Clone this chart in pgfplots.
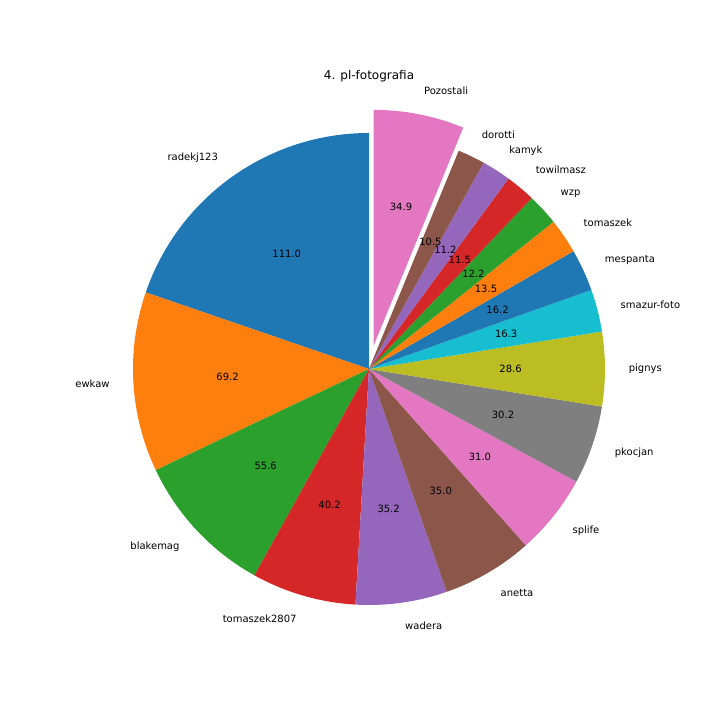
\documentclass[border=0pt]{standalone}
\usepackage{pgfplots}
\usepackage{pgfplotstable}
\usepackage{fontspec}
\setmainfont{DejaVu Sans}
\pgfplotsset{compat=1.18}
\definecolor{c0}{HTML}{1F77B4}
\definecolor{c1}{HTML}{FF7F0E}
\definecolor{c2}{HTML}{2CA02C}
\definecolor{c3}{HTML}{D62728}
\definecolor{c4}{HTML}{9467BD}
\definecolor{c5}{HTML}{8C564B}
\definecolor{c6}{HTML}{E377C2}
\definecolor{c7}{HTML}{7F7F7F}
\definecolor{c8}{HTML}{BCBD22}
\definecolor{c9}{HTML}{17BECF}
\pgfplotstableread[col sep=comma]{
name,value,color,explode
radekj123,111.0,c0,0
ewkaw,69.2,c1,0
blakemag,55.6,c2,0
tomaszek2807,40.2,c3,0
wadera,35.2,c4,0
anetta,35.0,c5,0
splife,31.0,c6,0
pkocjan,30.2,c7,0
pignys,28.6,c8,0
smazur-foto,16.3,c9,0
mespanta,16.2,c0,0
tomaszek,13.5,c1,0
wzp,12.2,c2,0
towilmasz,11.5,c3,0
kamyk,11.2,c4,0
dorotti,10.5,c5,0
Pozostali,34.9,c6,0.1
}\piedata
\def\R{236}
\begin{document}
\begin{tikzpicture}[every node/.style={font=\fontsize{10bp}{12bp}\selectfont, inner sep=0pt}]
\pgfplotstablegetrowsof{\piedata}
\pgfmathtruncatemacro\lastrow{\pgfplotsretval-1}
\def\total{0}
\pgfplotsforeachungrouped \i in {0,...,\lastrow}{%
  \pgfplotstablegetelem{\i}{value}\of\piedata
  \pgfmathsetmacro\total{\total+\pgfplotsretval}%
}
\begin{axis}[scale only axis, width=720bp, height=720bp,
  xmin=-369, xmax=351, ymin=-351, ymax=369, hide axis, clip=false]
\path (axis cs:-369,-351) rectangle (axis cs:351,369);
% wedges
\def\cum{0}
\pgfplotsforeachungrouped \i in {0,...,\lastrow}{%
  \pgfplotstablegetelem{\i}{value}\of\piedata \edef\v{\pgfplotsretval}%
  \pgfplotstablegetelem{\i}{color}\of\piedata \edef\cl{\pgfplotsretval}%
  \pgfplotstablegetelem{\i}{explode}\of\piedata \edef\ex{\pgfplotsretval}%
  \pgfmathsetmacro\a{90+\cum/\total*360}%
  \pgfmathsetmacro\b{90+(\cum+\v)/\total*360}%
  \pgfmathsetmacro\m{(\a+\b)/2}%
  \pgfmathsetmacro\ox{\ex*\R*cos(\m)}%
  \pgfmathsetmacro\oy{\ex*\R*sin(\m)}%
  \pgfmathsetmacro\sx{\ox+\R*cos(\a)}%
  \pgfmathsetmacro\sy{\oy+\R*sin(\a)}%
  \edef\temp{\noexpand\fill[\cl] (axis cs:\ox,\oy) -- (axis cs:\sx,\sy) arc[start angle=\a, end angle=\b, radius=\R bp] -- cycle;}%
  \temp
  \pgfmathsetmacro\cum{\cum+\v}%
}
% texts
\def\cum{0}
\pgfplotsforeachungrouped \i in {0,...,\lastrow}{%
  \pgfplotstablegetelem{\i}{value}\of\piedata \edef\v{\pgfplotsretval}%
  \pgfplotstablegetelem{\i}{name}\of\piedata \edef\nm{\pgfplotsretval}%
  \pgfplotstablegetelem{\i}{explode}\of\piedata \edef\ex{\pgfplotsretval}%
  \pgfmathsetmacro\a{90+\cum/\total*360}%
  \pgfmathsetmacro\b{90+(\cum+\v)/\total*360}%
  \pgfmathsetmacro\m{(\a+\b)/2}%
  \pgfmathsetmacro\ox{\ex*\R*cos(\m)}%
  \pgfmathsetmacro\oy{\ex*\R*sin(\m)}%
  \pgfmathsetmacro\lx{\ox+1.1*\R*cos(\m)}%
  \pgfmathsetmacro\ly{\oy+1.1*\R*sin(\m)}%
  \pgfmathsetmacro\px{\ox+0.6*\R*cos(\m)}%
  \pgfmathsetmacro\py{\oy+0.6*\R*sin(\m)}%
  \ifdim\lx pt>0pt \def\anc{west}\else\def\anc{east}\fi
  \edef\temp{\noexpand\node[anchor=\anc] at (axis cs:\lx,\ly) {\nm};
    \noexpand\node at (axis cs:\px,\py) {\v};}%
  \temp
  \pgfmathsetmacro\cum{\cum+\v}%
}
\node[anchor=base, font=\fontsize{12bp}{14bp}\selectfont] at (axis cs:0,289) {4. pl-fotografia};
\end{axis}
\end{tikzpicture}
\end{document}
